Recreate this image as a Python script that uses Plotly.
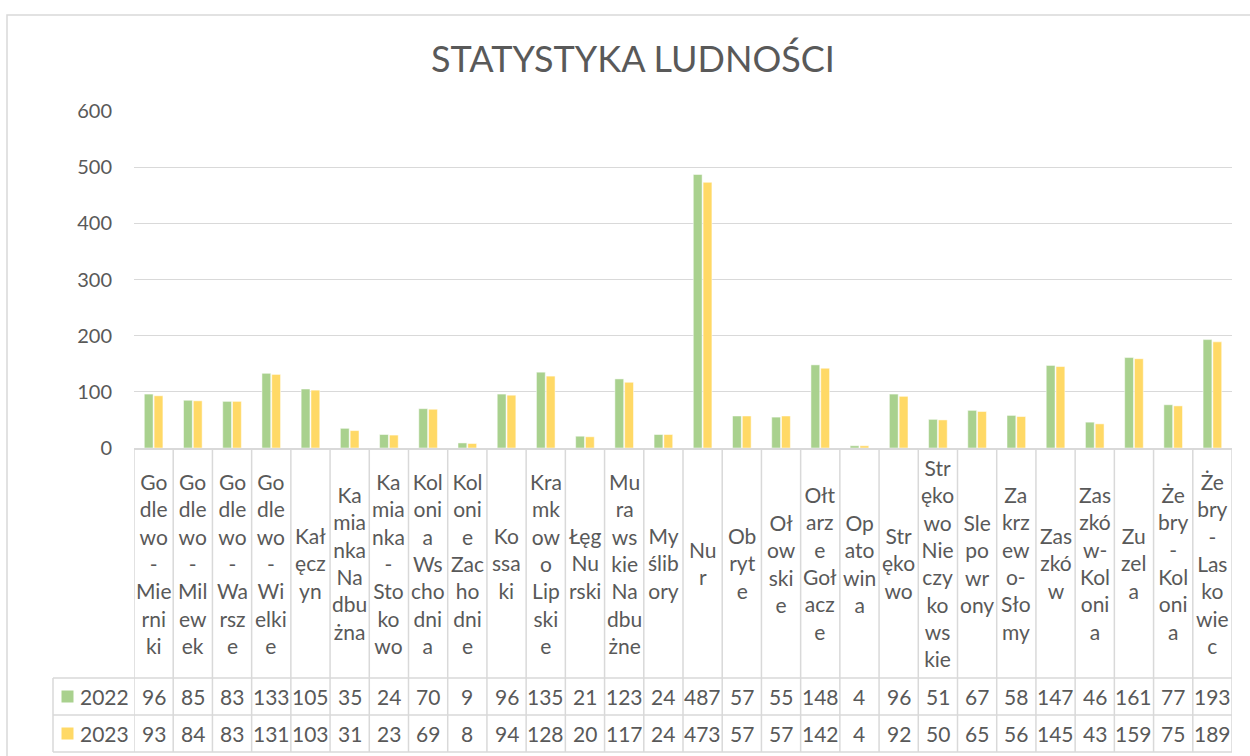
import plotly.graph_objects as go

categories = ["Godlewo-Mierniki", "Godlewo-Milewek", "Godlewo-Warsze", "Godlewo-Wielkie",
              "Kałęczyn", "Kamianka Nadbużna", "Kamianka-Stokowo", "Kolonia Wschodnia",
              "Kolonie Zachodnie", "Kossaki", "Kramkowo Lipskie", "Łęg Nurski",
              "Murawskie Nadbużne", "Myślibory", "Nur", "Obryte", "Ołowskie",
              "Ołtarze Gołacze", "Opatowina", "Strękowo", "Strękowo Nieczykowskie",
              "Slepowrony", "Zakrzewo-Słomy", "Zaszków", "Zaszków-Kolonia", "Zuzela",
              "Żebry-Kolonia", "Żebry-Laskowiec"]

tick_labels = ["Go<br>dle<br>wo<br>-<br>Mie<br>rni<br>ki",
               "Go<br>dle<br>wo<br>-<br>Mil<br>ew<br>ek",
               "Go<br>dle<br>wo<br>-<br>Wa<br>rsz<br>e",
               "Go<br>dle<br>wo<br>-<br>Wi<br>elki<br>e",
               "Kał<br>ęcz<br>yn",
               "Ka<br>mia<br>nka<br>Na<br>dbu<br>żna",
               "Ka<br>mia<br>nka<br>-<br>Sto<br>ko<br>wo",
               "Kol<br>oni<br>a<br>Ws<br>cho<br>dni<br>a",
               "Kol<br>oni<br>e<br>Zac<br>ho<br>dni<br>e",
               "Ko<br>ssa<br>ki",
               "Kra<br>mk<br>ow<br>o<br>Lip<br>ski<br>e",
               "Łęg<br>Nu<br>rski",
               "Mu<br>ra<br>ws<br>kie<br>Na<br>dbu<br>żne",
               "My<br>ślib<br>ory",
               "Nu<br>r",
               "Ob<br>ryt<br>e",
               "Oł<br>ow<br>ski<br>e",
               "Ołt<br>arz<br>e<br>Goł<br>acz<br>e",
               "Op<br>ato<br>win<br>a",
               "Str<br>ęko<br>wo",
               "Str<br>ęko<br>wo<br>Nie<br>czy<br>ko<br>ws<br>kie",
               "Sle<br>po<br>wr<br>ony",
               "Za<br>krz<br>ew<br>o-<br>Sło<br>my",
               "Zas<br>zkó<br>w",
               "Zas<br>zkó<br>w-<br>Kol<br>oni<br>a",
               "Zu<br>zel<br>a",
               "Że<br>bry<br>-<br>Kol<br>oni<br>a",
               "Że<br>bry<br>-<br>Las<br>ko<br>wie<br>c"]

values_2022 = [96, 85, 83, 133, 105, 35, 24, 70, 9, 96, 135, 21, 123, 24, 487, 57, 55, 148,
               4, 96, 51, 67, 58, 147, 46, 161, 77, 193]
values_2023 = [93, 84, 83, 131, 103, 31, 23, 69, 8, 94, 128, 20, 117, 24, 473, 57, 57, 142,
               4, 92, 50, 65, 56, 145, 43, 159, 75, 189]

series_names = ["2022", "2023"]
series_colors = ["#A9D18E", "#FFD966"]

TEXT = "#595959"
GRID = "#D9D9D9"
FONT = "Lato, 'Open Sans', sans-serif"

fig = go.Figure()
for name, vals, col in zip(series_names, [values_2022, values_2023], series_colors):
    fig.add_trace(go.Bar(x=categories, y=vals, name=name, marker_color=col,
                         marker_line_color="white", marker_line_width=0.5))

W, H = 1250, 756
L, R, T, B = 134, 18, 111, 308
ph = H - T - B
pw = W - L - R


def py(pix):
    return (H - B - pix) / ph


def px(pix):
    return (pix - L) / pw


row_top = py(678)
row_mid = py(715)
row_bot = py(752)
cat_center = py(563)
r1_center = (row_top + row_mid) / 2
r2_center = (row_mid + row_bot) / 2
left_edge = px(53)

shapes = []
line = dict(color=GRID, width=1.5)
n = len(categories)
# vertical separators of the data table
for i in range(n + 1):
    shapes.append(dict(type="line", xref="x", yref="paper", x0=i - 0.5, x1=i - 0.5,
                       y0=0, y1=row_bot, line=line))
# left border of label column
shapes.append(dict(type="line", xref="paper", yref="paper", x0=left_edge, x1=left_edge,
                   y0=row_top, y1=row_bot, line=line))
for yy in [row_top, row_mid, row_bot]:
    shapes.append(dict(type="line", xref="paper", yref="paper", x0=left_edge, x1=1,
                       y0=yy, y1=yy, line=line))
# legend keys
for k, (yc, col) in enumerate(zip([r1_center, r2_center], series_colors)):
    shapes.append(dict(type="rect", xref="paper", yref="paper",
                       x0=px(61.5), x1=px(73.5), y0=yc - 6 / ph, y1=yc + 6 / ph,
                       fillcolor=col, line=dict(width=0)))
# outer chart border
shapes.append(dict(type="rect", xref="paper", yref="paper",
                   x0=px(7), x1=px(1262), y0=py(775), y1=py(15),
                   line=dict(color=GRID, width=1.5), fillcolor="rgba(0,0,0,0)", layer="below"))

annotations = []
for i, lab in enumerate(tick_labels):
    annotations.append(dict(x=i, y=cat_center, xref="x", yref="paper", text=lab,
                            showarrow=False, xanchor="center", yanchor="middle",
                            font=dict(size=21, color=TEXT, family=FONT)))
for vals, yc in zip([values_2022, values_2023], [r1_center, r2_center]):
    for i, v in enumerate(vals):
        annotations.append(dict(x=i, y=yc, xref="x", yref="paper", text=str(v),
                                showarrow=False, xanchor="center", yanchor="middle",
                                font=dict(size=21, color=TEXT, family=FONT)))
for name, yc in zip(series_names, [r1_center, r2_center]):
    annotations.append(dict(x=px(78), y=yc, xref="paper", yref="paper", text=name,
                            showarrow=False, xanchor="left", yanchor="middle",
                            font=dict(size=21, color=TEXT, family=FONT)))

fig.update_layout(
    width=W, height=H,
    margin=dict(l=L, r=R, t=T, b=B, autoexpand=False),
    paper_bgcolor="white", plot_bgcolor="white",
    barmode="group", bargap=0.5, bargroupgap=0.1,
    showlegend=False,
    title=dict(text="STATYSTYKA LUDNOŚCI", x=0.5064, xref="container", xanchor="center",
               y=1 - 59 / H, yref="container", yanchor="middle",
               font=dict(size=36, color=TEXT, family=FONT)),
    xaxis=dict(type="category", range=[-0.5, n - 0.5], showticklabels=False,
               showgrid=False, showline=True, linecolor=GRID, linewidth=1.5,
               ticks="", fixedrange=True),
    yaxis=dict(range=[0, 600], dtick=100, showgrid=True, gridcolor=GRID, gridwidth=1.3,
               zeroline=False, showline=False, ticks="", ticklabelstandoff=21,
               tickfont=dict(size=20, color=TEXT, family=FONT)),
    shapes=shapes,
    annotations=annotations,
    font=dict(family=FONT, color=TEXT),
)

fig.write_html("out.html", config={"displayModeBar": False},
               post_script="document.body.style.margin='0';document.body.style.overflow='hidden';")
